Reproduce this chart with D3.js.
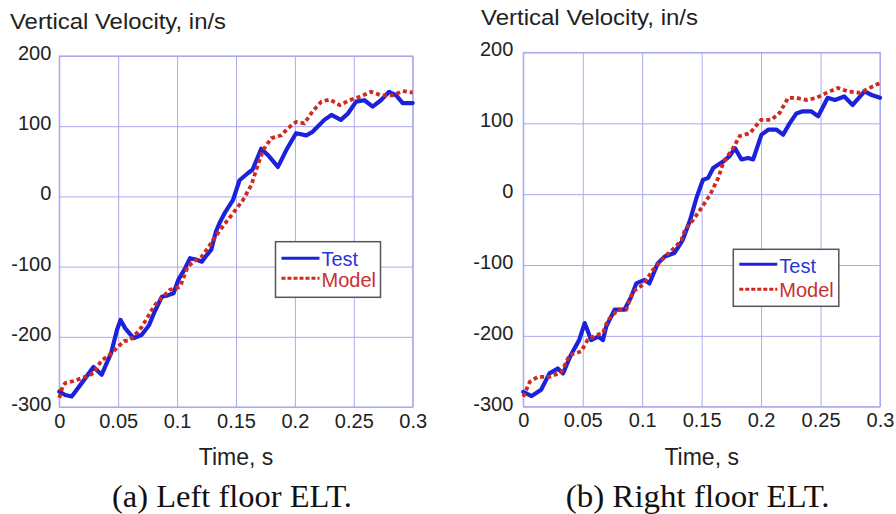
<!DOCTYPE html>
<html>
<head>
<meta charset="utf-8">
<script src="https://cdn.jsdelivr.net/npm/d3@7"></script>
<style>
  body { margin: 0; background: #fff; }
  svg { display: block; }
  text.sans { font-family: "Liberation Sans", Arial, sans-serif; fill: #222; }
  text.serif { font-family: "Liberation Serif", "Times New Roman", serif; fill: #111; }
</style>
</head>
<body>
<svg id="chart" width="896" height="514"></svg>
<script>
// axis ticks
const xTicks = [0, 0.05, 0.1, 0.15, 0.2, 0.25, 0.3];
const xTickLabels = ["0", "0.05", "0.1", "0.15", "0.2", "0.25", "0.3"];
const yTicks = [-300, -200, -100, 0, 100, 200];
const seriesNames = ["Test", "Model"];

// left floor ELT, [time s, velocity in/s]
const leftTest = [[0,-278],[0.005,-283],[0.0105,-285],[0.019,-266],[0.029,-243],[0.036,-254],[0.044,-223],
  [0.049,-190],[0.052,-176],[0.056,-188],[0.063,-202],[0.07,-197],[0.076,-184],[0.081,-164],[0.087,-143],
  [0.092,-141],[0.097,-138],[0.101,-119],[0.106,-105],[0.111,-88],[0.116,-90],[0.121,-93],[0.125,-84],
  [0.129,-76],[0.133,-50],[0.136,-38],[0.141,-22],[0.1475,-5],[0.153,23],[0.16,33],[0.164,38],[0.1715,68],
  [0.177,59],[0.1856,42],[0.1927,66],[0.201,90],[0.2097,87],[0.215,92],[0.225,109],[0.231,116],[0.239,109],
  [0.245,118],[0.252,135],[0.259,137],[0.266,128],[0.273,137],[0.28,149],[0.286,144],[0.2915,133],[0.3,133]];
const leftModel = [[0,-287],[0.003,-270],[0.005,-266],[0.012,-263],[0.019,-259],[0.029,-252],[0.036,-233],
  [0.0415,-228],[0.05,-214],[0.055,-206],[0.06,-205],[0.065,-196],[0.07,-186],[0.081,-155],[0.088,-143],
  [0.094,-133],[0.1025,-129],[0.109,-100],[0.115,-92],[0.1207,-86],[0.126,-74],[0.1305,-62],[0.14,-40],
  [0.1475,-24],[0.156,-5],[0.163,16],[0.1686,45],[0.173,66],[0.18,83],[0.1885,87],[0.194,97],[0.201,106],
  [0.208,104],[0.215,121],[0.2224,135],[0.2295,138],[0.238,130],[0.2464,137],[0.255,142],[0.2647,149],
  [0.273,144],[0.283,144],[0.2915,150],[0.3,148]];

// right floor ELT
const rightTest = [[0,-279],[0.007,-285],[0.015,-276],[0.022,-253],[0.029,-246],[0.0334,-253],[0.04,-227],
  [0.047,-206],[0.0516,-182],[0.054,-192],[0.057,-206],[0.063,-201],[0.067,-206],[0.0697,-187],[0.0768,-163],
  [0.085,-163],[0.0907,-145],[0.095,-126],[0.102,-121],[0.106,-126],[0.113,-98],[0.119,-88],[0.127,-83],
  [0.1317,-71],[0.134,-65],[0.14,-38],[0.1457,-5],[0.151,20],[0.1555,23],[0.1597,37],[0.168,46],[0.1737,54],
  [0.178,65],[0.1835,49],[0.189,51],[0.1933,49],[0.2003,84],[0.206,91],[0.213,91],[0.2185,84],[0.224,100],
  [0.2297,114],[0.235,117],[0.242,117],[0.248,110],[0.256,136],[0.262,133],[0.27,138],[0.277,126],
  [0.287,145],[0.293,140],[0.3,136]];
const rightModel = [[0,-286],[0.0054,-265],[0.012,-258],[0.022,-258],[0.032,-251],[0.039,-227],[0.0487,-222],
  [0.054,-206],[0.061,-199],[0.067,-196],[0.071,-178],[0.0796,-163],[0.0866,-163],[0.092,-138],[0.1006,-128],
  [0.109,-107],[0.119,-88],[0.127,-76],[0.133,-65],[0.136,-50],[0.143,-36],[0.15,-19],[0.157,-1],[0.164,23],
  [0.168,44],[0.1765,65],[0.182,82],[0.1905,86],[0.2,105],[0.2087,105],[0.2157,115],[0.2227,136],
  [0.2297,136],[0.238,133],[0.2466,136],[0.255,143],[0.2647,150],[0.273,145],[0.283,143],[0.2914,150],[0.3,157]];

const gridColor = "#aaaaee";
const testColor = "#1c22dc";
const modelColor = "#d02a20";

const svg = d3.select("#chart");

const panels = [
  {left: 59.3, right: 412.7, top: 56, bottom: 407, test: leftTest, model: leftModel,
   title: "Vertical Velocity, in/s", titleX: 10, titleY: 29, titleLen: 216,
   caption: "(a) Left floor ELT.", captionLen: 240, tickGap: 8,
   legend: {x: 275.5, y: 241.7, w: 105, h: 55.6, l1: 16.6, l2: 36.6, b1: 24.3, b2: 45}},
  {left: 523.3, right: 880, top: 52.5, bottom: 406.7, test: rightTest, model: rightModel,
   title: "Vertical Velocity, in/s", titleX: 481, titleY: 25, titleLen: 217,
   caption: "(b) Right floor ELT.", captionLen: 264, tickGap: 10,
   legend: {x: 733.3, y: 249.3, w: 105.5, h: 57, l1: 15, l2: 40, b1: 24, b2: 47.4}}
];

panels.forEach(drawPanel);

function drawPanel(p) {
    let w = p.right - p.left, h = p.bottom - p.top;
    let x = d3.scaleLinear().domain([0, 0.3]).range([p.left, p.right]);
    let y = d3.scaleLinear().domain([-300, 200]).range([p.bottom, p.top]);

    // grid + y labels
    let gy = svg.append("g").attr("transform", `translate(${p.left},0)`)
        .call(d3.axisLeft(y).tickValues(yTicks).tickSize(-w).tickPadding(p.tickGap).tickFormat(d => String(d)));
    gy.select(".domain").remove();
    gy.selectAll(".tick line").attr("stroke", gridColor).attr("stroke-width", 1);
    gy.selectAll(".tick text").attr("class", "sans").attr("font-size", 20).attr("dy", "0.17em");

    let gx = svg.append("g").attr("transform", `translate(0,${p.bottom})`)
        .call(d3.axisBottom(x).tickValues(xTicks).tickSize(-h).tickFormat((d, i) => xTickLabels[i]));
    gx.select(".domain").remove();
    gx.selectAll(".tick line").attr("stroke", gridColor).attr("stroke-width", 1);
    gx.selectAll(".tick text").attr("class", "sans").attr("font-size", 20).attr("y", 20.5).attr("dy", 0);

    svg.append("rect").attr("x", p.left).attr("y", p.top).attr("width", w).attr("height", h)
        .attr("fill", "none").attr("stroke", gridColor).attr("stroke-width", 1.2);

    let line = d3.line().x(d => x(d[0])).y(d => y(d[1]));

    svg.append("path").datum(p.test).attr("d", line)
        .attr("fill", "none").attr("stroke", testColor).attr("stroke-width", 4.2)
        .attr("stroke-linejoin", "round").attr("stroke-linecap", "round");
    svg.append("path").datum(p.model).attr("d", line)
        .attr("fill", "none").attr("stroke", modelColor).attr("stroke-width", 3.8)
        .attr("stroke-dasharray", "4,3");

    // legend
    let L = p.legend;
    let lg = svg.append("g").attr("transform", `translate(${L.x},${L.y})`);
    lg.append("rect").attr("width", L.w).attr("height", L.h)
        .attr("fill", "#fff").attr("stroke", "#555").attr("stroke-width", 1.5);
    lg.append("line").attr("x1", 6).attr("x2", 44).attr("y1", L.l1).attr("y2", L.l1)
        .attr("stroke", testColor).attr("stroke-width", 3);
    lg.append("line").attr("x1", 6).attr("x2", 44).attr("y1", L.l2).attr("y2", L.l2)
        .attr("stroke", modelColor).attr("stroke-width", 3).attr("stroke-dasharray", "4,2");
    lg.append("text").attr("class", "sans").attr("x", 46).attr("y", L.b1).attr("font-size", 20)
        .style("fill", "#2a35d8").text(seriesNames[0]);
    lg.append("text").attr("class", "sans").attr("x", 46).attr("y", L.b2).attr("font-size", 20)
        .style("fill", "#c83030").text(seriesNames[1]);

    // titles
    svg.append("text").attr("class", "sans").attr("x", p.titleX).attr("y", p.titleY).attr("font-size", 22)
        .attr("textLength", p.titleLen).attr("lengthAdjust", "spacingAndGlyphs").text(p.title);
    svg.append("text").attr("class", "sans").attr("x", (p.left + p.right) / 2).attr("y", 465)
        .attr("font-size", 23).attr("text-anchor", "middle").text("Time, s");
    svg.append("text").attr("class", "serif").attr("x", (p.left + p.right) / 2 - 4).attr("y", 506.7)
        .attr("font-size", 31).attr("text-anchor", "middle")
        .attr("textLength", p.captionLen).attr("lengthAdjust", "spacingAndGlyphs")
        .text(p.caption);
}
</script>
</body>
</html>
